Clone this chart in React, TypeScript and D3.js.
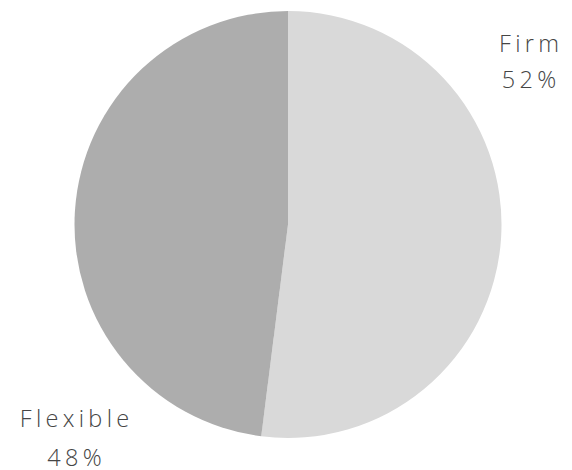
import React from "react";
import * as d3 from "d3";

const categories = ["Firm", "Flexible"];
const values = [52, 48];
const colors = ["#d9d9d9", "#adadad"];

const W = 572;
const H = 470;

export default function App() {
  const cx = 288;
  const cy = 224.5;
  const r = 213.5;
  const ls = 4.3;
  const pie = d3.pie<number>().sort(null).value((d) => d);
  const arcs = pie(values);
  const arcGen = d3.arc<d3.PieArcDatum<number>>().innerRadius(0).outerRadius(r);
  const labelPos = [
    { x: 529, y1: 52, y2: 87.5 },
    { x: 74.5, y1: 427, y2: 466 },
  ];
  const fontStyle: React.CSSProperties = {
    fontFamily: "'Open Sans', Lato, sans-serif",
    fontWeight: 300,
    fontSize: 23.5,
    letterSpacing: `${ls}px`,
    fill: "#454545",
  };
  return (
    <svg width={W} height={H} style={{ position: "absolute", left: 0, top: 0 }}>
      <g transform={`translate(${cx},${cy})`}>
        {arcs.map((a, i) => (
          <path key={categories[i]} d={arcGen(a) || ""} fill={colors[i]} />
        ))}
      </g>
      {categories.map((c, i) => (
        <g key={c}>
          <text x={labelPos[i].x + ls / 2} y={labelPos[i].y1} textAnchor="middle" style={fontStyle}>
            {c}
          </text>
          <text x={labelPos[i].x + ls / 2} y={labelPos[i].y2} textAnchor="middle" style={fontStyle}>
            {values[i]}%
          </text>
        </g>
      ))}
    </svg>
  );
}
